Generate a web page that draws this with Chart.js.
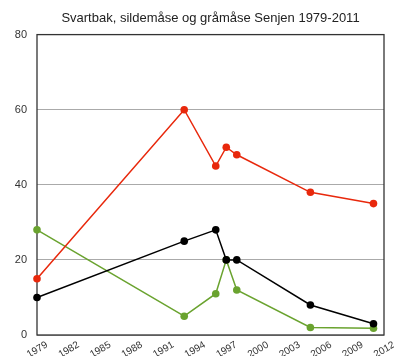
<!DOCTYPE html>
<html>
<head>
<meta charset="utf-8">
<script src="https://cdn.jsdelivr.net/npm/chart.js@4"></script>
<style>
  html, body { margin: 0; padding: 0; background: #fff; }
  #wrap { width: 394px; height: 356px; }
</style>
</head>
<body>
<div id="wrap"><canvas id="gullChart"></canvas></div>
<script>
// Data
const years = [1979, 1993, 1996, 1997, 1998, 2005, 2011];
const redValues = [15, 60, 45, 50, 48, 38, 35];
const blackValues = [10, 25, 28, 20, 20, 8, 3];
const greenValues = [28, 5, 11, 20, 12, 2, 1.8];
const yTicks = [0, 20, 40, 60, 80];
const xTicks = [1979, 1982, 1985, 1988, 1991, 1994, 1997, 2000, 2003, 2006, 2009, 2012];

function toPoints(vals) {
    return years.map((y, i) => ({ x: y, y: vals[i] }));
}

function series(label, vals, color) {
    return {
        label: label,
        data: toPoints(vals),
        borderColor: color,
        backgroundColor: color,
        pointBackgroundColor: color,
        pointBorderWidth: 0,
        pointRadius: 3.8,
        borderWidth: 1.5,
        tension: 0,
        clip: false
    };
}

// Frame around the plot area
const frame = {
    id: 'frame',
    beforeDatasetsDraw(chart) {
        const a = chart.chartArea;
        const c = chart.ctx;
        c.save();
        c.strokeStyle = '#333';
        c.lineWidth = 1.3;
        c.strokeRect(a.left, a.top, a.right - a.left, a.bottom - a.top);
        c.restore();
    }
};

const ctx = document.getElementById('gullChart').getContext('2d');
const gullChart = new Chart(ctx, {
    type: 'line',
    data: {
        datasets: [
            series('Gråmåse', redValues, '#e8280c'),
            series('Svartbak', blackValues, '#000000'),
            series('Sildemåse', greenValues, '#6aa32f')
        ]
    },
    options: {
        responsive: true,
        maintainAspectRatio: false,
        animation: false,
        layout: { padding: { left: 0, right: 9, top: 0, bottom: 0 } },
        plugins: {
            legend: { display: false },
            tooltip: { enabled: false },
            title: {
                display: true,
                fullSize: false, // centre over the plot area
                text: 'Svartbak, sildemåse og gråmåse Senjen 1979-2011',
                color: '#222',
                font: { family: 'Liberation Sans', size: 13, weight: 'normal' },
                padding: { top: 11, bottom: 8 }
            }
        },
        scales: {
            x: {
                type: 'linear',
                min: 1979,
                max: 2012,
                afterBuildTicks: (scale) => { scale.ticks = xTicks.map(v => ({ value: v })); },
                afterFit: (scale) => { scale.height = 21; },
                grid: { display: false, drawTicks: false },
                border: { display: false },
                ticks: {
                    minRotation: 30,
                    maxRotation: 30,
                    padding: 4,
                    labelOffset: 10,
                    color: '#333',
                    font: { family: 'Liberation Sans', size: 10 },
                    callback: (v) => String(v)
                }
            },
            y: {
                min: 0,
                max: 80,
                afterBuildTicks: (scale) => { scale.ticks = yTicks.map(v => ({ value: v })); },
                afterFit: (scale) => { scale.width = 37; },
                grid: { color: '#aaaaaa', lineWidth: 1, drawTicks: false },
                border: { display: false },
                ticks: {
                    padding: 10,
                    color: '#333',
                    font: { family: 'Liberation Sans', size: 11 }
                }
            }
        }
    },
    plugins: [frame]
});
</script>
</body>
</html>
